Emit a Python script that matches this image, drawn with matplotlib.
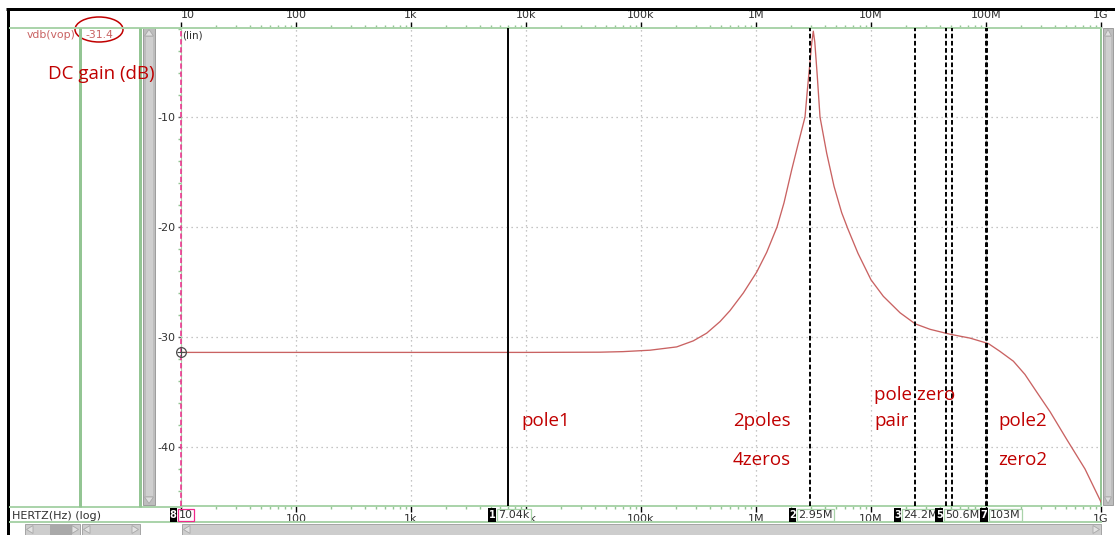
import numpy as np
import matplotlib
matplotlib.use("Agg")
import matplotlib.pyplot as plt
from matplotlib.patches import Rectangle, Ellipse, Polygon
from matplotlib.ticker import FixedLocator, FixedFormatter, NullFormatter

# ---- AC response of vdb(vop) ----
freq_hz = [10, 100, 1e3, 1e4, 4.4e4, 6.97e4, 1.197e5, 2.044e5, 2.85e5, 3.726e5, 4.864e5,
           5.943e5, 7.756e5, 1.014e6, 1.239e6, 1.523e6, 1.752e6, 2.044e6, 2.319e6, 2.668e6,
           2.794e6, 2.949e6, 3.05e6, 3.15e6, 3.246e6, 3.412e6, 3.602e6, 4.12e6, 4.77e6,
           5.56e6, 6.31e6, 7.71e6, 1.0e7, 1.28e7, 1.79e7, 2.42e7, 3.26e7, 4.87e7, 7.26e7,
           1.05e8, 1.32e8, 1.73e8, 2.18e8, 2.76e8, 3.61e8, 5.03e8, 7.26e8, 1e9]
gain_db = [-31.4, -31.4, -31.4, -31.4, -31.38, -31.33, -31.2, -30.9, -30.35, -29.65, -28.6,
           -27.6, -26.0, -24.1, -22.3, -20.0, -17.8, -14.8, -12.5, -10.0,
           -7.6, -5.0, -3.3, -2.2, -3.2, -6.3, -10.0, -13.3, -16.3,
           -18.7, -20.2, -22.4, -24.8, -26.3, -27.8, -28.8, -29.3, -29.75, -30.1,
           -30.6, -31.3, -32.2, -33.4, -35.0, -36.8, -39.3, -42.0, -45.0]
dc_gain_db = -31.4

# ---- markers ----
marker_ids = ["8", "1", "2", "3", "4", "5", "6", "7"]
marker_freq_hz = [10, 7.04e3, 2.95e6, 24.2e6, 45.0e6, 50.6e6, 100e6, 103e6]
marker_text = ["10", "7.04k", "2.95M", "24.2M", "45.0M", "50.6M", "100M", "103M"]
shown_marker_ids = ["8", "1", "2", "3", "5", "7"]

# ---- axis ticks ----
decade_ticks = [1e1, 1e2, 1e3, 1e4, 1e5, 1e6, 1e7, 1e8, 1e9]
decade_labels = ["10", "100", "1k", "10k", "100k", "1M", "10M", "100M", "1G"]
# bottom row: readout boxes sit over 10, 10k and 100M
bottom_labels = ["", "100", "1k", " k", "100k", "1M", "10M", "", "1G"]
gain_ticks = [-10, -20, -30, -40]
gain_labels = ["-10", "-20", "-30", "-40"]

# ---- notes ----
note_lines = [("pole1", 521, 421), ("2poles", 733, 421), ("4zeros", 733, 460),
              ("pole zero", 874, 395), ("pair", 874, 421),
              ("pole2", 998, 421), ("zero2", 998, 460)]

W, H = 1115, 535
PX = 72.0 / 100.0          # points per pixel
GREEN = "#93c593"
GREEN_LT = "#a9d3a9"
TXT = "#303030"
TRACE = "#c96262"
NOTE = "#c00000"
PINK = "#f0288c"

fig = plt.figure(figsize=(W / 100, H / 100), dpi=100)
fig.patch.set_facecolor("white")

# plot area (pixel box 181..1101 x 28..506)
ax = fig.add_axes([181 / W, 1 - 506 / H, 920 / W, 478 / H], zorder=1)
ax.set_xscale("log")
ax.set_xlim(10, 1e9)
ax.set_ylim(-10 - 389 / 11, -10 + 89 / 11)

minor = [m * d for d in decade_ticks[:-1] for m in range(2, 10)]
ax.xaxis.set_major_locator(FixedLocator(decade_ticks))
ax.xaxis.set_major_formatter(FixedFormatter(decade_labels))
ax.xaxis.set_minor_locator(FixedLocator(minor))
ax.xaxis.set_minor_formatter(NullFormatter())
ax.yaxis.set_major_locator(FixedLocator(gain_ticks))
ax.yaxis.set_major_formatter(FixedFormatter(gain_labels))
ax.yaxis.set_minor_locator(FixedLocator(list(range(-44, -1, 2))))

ax.tick_params(axis="x", which="both", top=True, bottom=True, labeltop=True,
               labelbottom=False, direction="out")
ax.tick_params(axis="x", which="major", length=4, width=1, color="black",
               labelsize=8, labelcolor=TXT, pad=1.5)
ax.tick_params(axis="x", which="minor", length=2.5, width=1, color=GREEN)
ax.tick_params(axis="y", which="major", length=2.5, width=1, color="#606060",
               labelsize=8, labelcolor=TXT, pad=1.5)
ax.tick_params(axis="y", which="minor", length=2.5, width=1, color=GREEN)
ax.xaxis.get_major_ticks()[0].label2.set_horizontalalignment("left")

# bottom frequency labels
sec = ax.secondary_xaxis("bottom")
sec.xaxis.set_major_locator(FixedLocator(decade_ticks))
sec.xaxis.set_major_formatter(FixedFormatter(bottom_labels))
sec.xaxis.set_minor_locator(FixedLocator([]))
sec.tick_params(axis="x", which="major", length=0, labelsize=8, labelcolor=TXT, pad=5.5)
sec.spines["bottom"].set_visible(False)
sec.xaxis.get_major_ticks()[3].label1.set_horizontalalignment("left")

for s in ("top", "bottom"):
    ax.spines[s].set_color(GREEN_LT)
    ax.spines[s].set_linewidth(1.4)
ax.spines["left"].set_color(GREEN_LT)
ax.spines["left"].set_linestyle((0, (1, 1)))
ax.spines["right"].set_color(GREEN)
ax.spines["right"].set_linestyle((0, (1, 1)))
ax.spines["right"].set_linewidth(1.4)

ax.grid(which="major", color="#b2b2b2", linestyle=(0, (1, 3)), linewidth=0.9)

# trace
ax.plot(freq_hz, gain_db, color=TRACE, lw=0.95, zorder=3)

# marker lines
for mid, f in zip(marker_ids, marker_freq_hz):
    if mid == "8":
        ax.axvline(f, color=PINK, lw=1.1, linestyle=(0, (3.5, 1.8)), zorder=5, clip_on=False)
    elif mid == "1":
        ax.axvline(f, color="black", lw=1.4, zorder=4)
    else:
        ax.axvline(f, color="black", lw=1.4, linestyle=(0, (2.4, 1.3)), zorder=4)

# DC point marker
ax.plot([marker_freq_hz[0]], [dc_gain_db], marker="o", ms=7, mfc="none",
        mec="#4a4a4a", mew=0.9, zorder=6, clip_on=False)
ax.plot([marker_freq_hz[0]], [dc_gain_db], marker="+", ms=6, mec="#4a4a4a",
        mew=0.8, zorder=6, clip_on=False)

# ---- window chrome, pixel coordinates ----
ui = fig.add_axes([0, 0, 1, 1], zorder=3)
ui.set_xlim(0, W)
ui.set_ylim(H, 0)
ui.axis("off")

ui.plot([6, W], [9, 9], color="black", lw=3 * PX, solid_capstyle="butt")
ui.plot([7.5, 7.5], [8, H], color="black", lw=3 * PX, solid_capstyle="butt")
ui.plot([10, 181], [27.5, 27.5], color=GREEN_LT, lw=1.4)
ui.plot([10, 181], [506.5, 506.5], color=GREEN_LT, lw=1.4)
ui.plot([10, 1101], [522, 522], color=GREEN_LT, lw=1.4)
for gx in (80, 140):
    ui.plot([gx, gx], [27.5, 506.5], color=GREEN, lw=3 * PX, solid_capstyle="butt")


def vscroll(x0, x1, y0, y1):
    ui.add_patch(Rectangle((x0, y0), x1 - x0, y1 - y0, fc="#bdbdbd", ec="#9c9c9c", lw=0.7))
    ui.add_patch(Rectangle((x0 + 2.5, y0 + 9), x1 - x0 - 5, y1 - y0 - 18, fc="#cfcfcf",
                           ec="none"))
    xm = (x0 + x1) / 2
    ui.add_patch(Polygon([[x0 + 1.5, y0 + 8], [x1 - 1.5, y0 + 8], [xm, y0 + 1.5]],
                         fc="#dedede", ec="#a8a8a8", lw=0.6))
    ui.add_patch(Polygon([[x0 + 1.5, y1 - 8], [x1 - 1.5, y1 - 8], [xm, y1 - 1.5]],
                         fc="#dedede", ec="#a8a8a8", lw=0.6))


def hscroll(x0, x1, y0, y1, thumb=None):
    ui.add_patch(Rectangle((x0, y0), x1 - x0, y1 - y0, fc="#cdcdcd", ec="#a4a4a4", lw=0.7))
    if thumb:
        ui.add_patch(Rectangle((thumb[0], y0), thumb[1] - thumb[0], y1 - y0,
                               fc="#a9a9a9", ec="none"))
    ym = (y0 + y1) / 2
    ui.add_patch(Polygon([[x0 + 8, y0 + 1.5], [x0 + 8, y1 - 1.5], [x0 + 1.5, ym]],
                         fc="#e2e2e2", ec="#a8a8a8", lw=0.6))
    ui.add_patch(Polygon([[x1 - 8, y0 + 1.5], [x1 - 8, y1 - 1.5], [x1 - 1.5, ym]],
                         fc="#e2e2e2", ec="#a8a8a8", lw=0.6))


vscroll(143, 155, 28, 505)
vscroll(1103, 1113, 28, 505)
hscroll(25, 80, 524, 535, thumb=(50, 72))
hscroll(82, 140, 524, 535)
hscroll(182, 1101, 524, 535)

# trace header
ui.text(27, 35, "vdb(vop)", fontsize=7.8, color=TRACE, ha="left", va="center")
ui.text(85, 35, f"{dc_gain_db:.1f}", fontsize=7.8, color=TRACE, ha="left", va="center")
ui.text(182, 35, "(lin)", fontsize=7.5, color=TXT, ha="left", va="center")
ui.text(12, 516, "HERTZ(Hz) (log)", fontsize=8, color=TXT, ha="left", va="center")
ui.add_patch(Ellipse((99, 29.5), 48, 25, fc="none", ec=NOTE, lw=1.1))
ui.text(48, 74, "DC gain (dB)", fontsize=13.5, color=NOTE, ha="left", va="center",
        family="Open Sans")

# marker readouts under the x axis
label_shift_px = {"8": -4, "1": -12.5, "2": -14, "3": -14, "5": -9, "7": 0.5}
fig.canvas.draw()
for mid, f, txt in zip(marker_ids, marker_freq_hz, marker_text):
    if mid not in shown_marker_ids:
        continue
    xd = ax.transData.transform((f, -30))[0]
    x0 = xd + label_shift_px[mid]
    edge = PINK if mid == "8" else GREEN_LT
    ui.text(x0 + 2, 515, txt, fontsize=8, color=TXT, ha="left", va="center",
            bbox=dict(boxstyle="square,pad=0.12", fc="white", ec=edge, lw=0.9))
    ui.add_patch(Rectangle((x0 - 7.5, 507.5), 7.5, 14.5, fc="black", ec="none", zorder=4))
    ui.text(x0 - 3.75, 515, mid, fontsize=7, color="white", ha="center", va="center",
            fontweight="bold", zorder=5)

# notes
for text, x, y in note_lines:
    ui.text(x, y, text, fontsize=13.5, color=NOTE, ha="left", va="center",
            family="Open Sans")

fig.savefig("out.png", dpi=100)
